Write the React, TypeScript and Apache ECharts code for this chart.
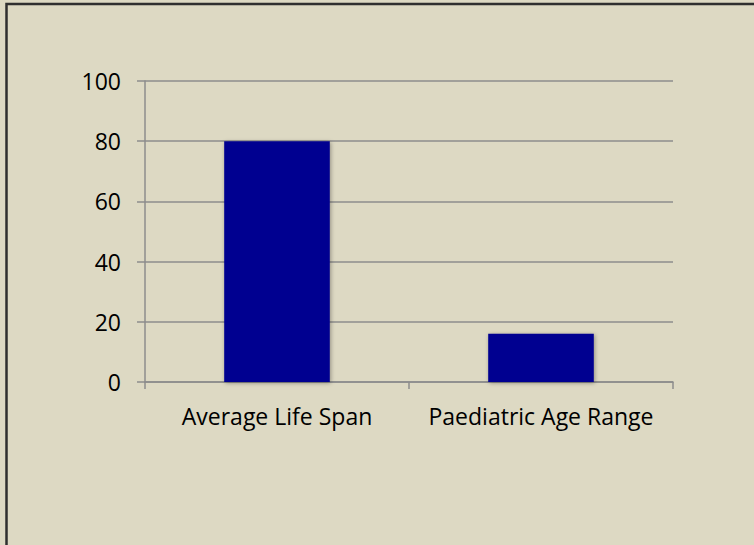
import React, { useEffect, useRef } from "react";
import * as echarts from "echarts";

const categories = ["Average Life Span", "Paediatric Age Range"];
const values = [80, 16];
const yMin = 0;
const yMax = 100;
const yInterval = 20;

export default function App() {
  const ref = useRef<HTMLDivElement>(null);
  useEffect(() => {
    if (!ref.current) return;
    const chart = echarts.init(ref.current, undefined, { renderer: "svg" });
    chart.setOption({
      animation: false,
      backgroundColor: "#DDD9C3",
      graphic: [
        {
          type: "rect",
          shape: { x: 6.5, y: 4, width: 900, height: 700 },
          style: { fill: "none", stroke: "#2f2f2f", lineWidth: 2.5 },
          silent: true,
        },
      ],
      grid: { left: 145, right: 81, top: 81, bottom: 163, containLabel: false },
      xAxis: {
        type: "category",
        data: categories,
        axisLine: { show: true, lineStyle: { color: "#8c8c8c", width: 1.5 } },
        axisTick: { show: true, alignWithLabel: false, length: 7, lineStyle: { color: "#8c8c8c", width: 1.5 } },
        axisLabel: {
          color: "#000",
          fontFamily: "Open Sans",
          fontSize: 23,
          margin: 22,
          interval: 0,
        },
        splitLine: { show: false },
      },
      yAxis: {
        type: "value",
        min: yMin,
        max: yMax,
        interval: yInterval,
        axisLine: { show: true, lineStyle: { color: "#8c8c8c", width: 1.5 } },
        axisTick: { show: true, length: 8, lineStyle: { color: "#8c8c8c", width: 1.5 } },
        axisLabel: {
          color: "#000",
          fontFamily: "Open Sans",
          fontSize: 23,
          margin: 24,
        },
        splitLine: { show: true, lineStyle: { color: "#8c8c8c", width: 1.5 } },
      },
      series: [
        {
          type: "bar",
          data: values,
          barWidth: "40%",
          itemStyle: {
            color: "#000090",
            shadowColor: "rgba(0,0,0,0.35)",
            shadowBlur: 4,
            shadowOffsetX: 1,
            shadowOffsetY: 1,
          },
        },
      ],
    });
    return () => chart.dispose();
  }, []);
  return (
    <div
      ref={ref}
      style={{ position: "fixed", left: 0, top: 0, width: 754, height: 545 }}
    />
  );
}
